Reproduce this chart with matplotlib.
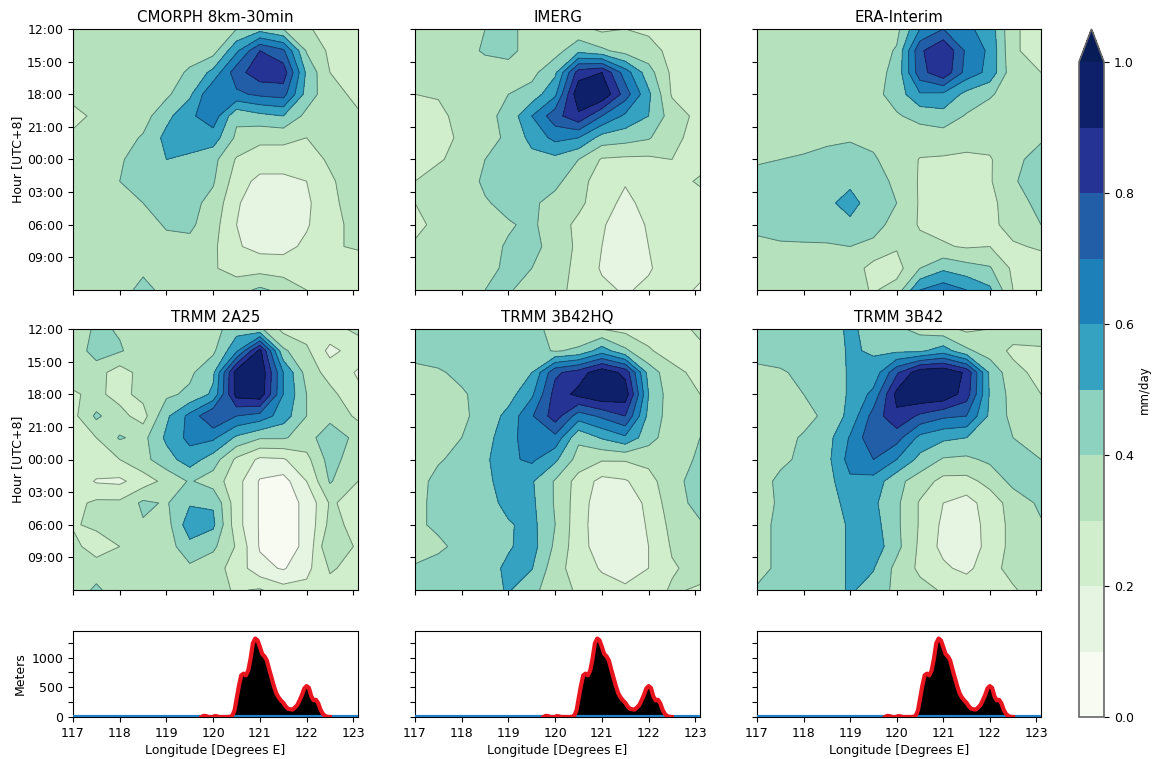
import numpy as np
import matplotlib
matplotlib.use("Agg")
import matplotlib.pyplot as plt
from matplotlib.colors import ListedColormap, BoundaryNorm

lons = [117, 117.5, 118, 118.5, 119, 119.5, 120, 120.5, 121, 121.5, 122, 122.5, 123.1]
hours = [0, 2, 4, 6, 8, 10, 12, 14, 16, 18, 20, 22, 24]
hour_ticks = [0, 3, 6, 9, 12, 15, 18, 21]
hour_labels = ["12:00", "15:00", "18:00", "21:00", "00:00", "03:00", "06:00", "09:00"]
lon_ticks = [117, 118, 119, 120, 121, 122, 123]
levels = [0, .1, .2, .3, .4, .5, .6, .7, .8, .9, 1.0]
band_colors = ["#f7fbf1", "#e6f5e2", "#d0eecb", "#b5e2bc", "#8cd2bf",
               "#35a2c2", "#1e80b8", "#225ea8", "#253494", "#0f206b"]
over_color = "#081d58"

cmorph = [
 [.35,.35,.38,.36,.36,.36,.37,.40,.46,.40,.31,.27,.27],
 [.33,.34,.35,.35,.36,.37,.36,.58,.80,.72,.39,.28,.27],
 [.34,.34,.34,.34,.37,.41,.53,.76,.86,.86,.48,.30,.27],
 [.33,.33,.34,.35,.38,.48,.70,.68,.72,.74,.46,.33,.28],
 [.27,.32,.34,.36,.47,.58,.66,.42,.47,.50,.37,.34,.31],
 [.32,.33,.36,.41,.53,.60,.55,.38,.32,.32,.30,.33,.32],
 [.33,.34,.39,.44,.50,.46,.43,.29,.26,.26,.27,.31,.34],
 [.33,.34,.40,.44,.46,.46,.41,.25,.17,.17,.20,.29,.34],
 [.33,.33,.35,.40,.44,.43,.37,.21,.15,.15,.18,.28,.34],
 [.33,.33,.34,.36,.41,.42,.34,.20,.15,.15,.19,.27,.33],
 [.33,.33,.34,.35,.37,.37,.32,.21,.17,.17,.22,.29,.31],
 [.33,.33,.34,.38,.35,.34,.31,.26,.26,.25,.24,.25,.25],
 [.33,.34,.36,.43,.37,.34,.33,.36,.42,.37,.30,.27,.26],
]
imerg = [
 [.34,.35,.37,.40,.42,.37,.35,.33,.28,.30,.28,.27,.20],
 [.34,.35,.37,.41,.42,.37,.36,.47,.42,.36,.34,.27,.22],
 [.34,.35,.36,.36,.37,.37,.48,.85,.90,.65,.44,.28,.26],
 [.30,.31,.34,.36,.40,.44,.58,.98,.99,.75,.52,.29,.27],
 [.27,.27,.34,.37,.43,.60,.76,.88,.70,.58,.50,.35,.27],
 [.26,.26,.32,.36,.42,.53,.63,.60,.46,.44,.41,.32,.27],
 [.27,.29,.33,.40,.44,.47,.47,.40,.29,.28,.28,.30,.27],
 [.30,.34,.34,.42,.46,.46,.43,.33,.26,.21,.26,.27,.31],
 [.30,.33,.35,.39,.43,.42,.36,.32,.25,.17,.24,.27,.27],
 [.28,.32,.35,.37,.39,.42,.34,.28,.21,.15,.21,.26,.27],
 [.31,.33,.35,.37,.41,.43,.36,.28,.20,.15,.20,.26,.27],
 [.34,.35,.35,.37,.42,.40,.35,.27,.19,.15,.19,.25,.24],
 [.34,.35,.37,.40,.41,.36,.32,.28,.22,.19,.22,.26,.18],
]
era = [
 [.35,.35,.35,.35,.35,.35,.37,.60,.70,.62,.56,.31,.27],
 [.35,.35,.35,.35,.35,.35,.41,.78,.90,.68,.58,.31,.27],
 [.35,.35,.35,.35,.35,.36,.43,.76,.88,.66,.57,.33,.30],
 [.35,.35,.35,.35,.35,.37,.44,.59,.58,.47,.41,.36,.33],
 [.35,.35,.35,.35,.35,.36,.39,.43,.46,.39,.36,.35,.35],
 [.36,.36,.37,.38,.39,.38,.36,.35,.35,.34,.34,.35,.39],
 [.39,.40,.41,.43,.44,.41,.36,.295,.29,.28,.29,.38,.43],
 [.43,.44,.45,.46,.47,.44,.38,.29,.27,.27,.29,.39,.45],
 [.43,.45,.46,.47,.55,.43,.40,.29,.27,.27,.28,.34,.44],
 [.42,.43,.44,.45,.47,.43,.37,.29,.27,.27,.28,.33,.40],
 [.38,.39,.39,.39,.40,.38,.31,.33,.31,.29,.30,.29,.31],
 [.35,.35,.35,.35,.36,.26,.26,.40,.48,.44,.41,.28,.26],
 [.35,.35,.35,.35,.34,.29,.34,.60,.66,.60,.52,.30,.27],
]
trmm_2a25 = [
 [.33,.42,.39,.35,.35,.35,.36,.46,.42,.27,.25,.27,.32],
 [.33,.45,.41,.35,.35,.36,.38,.58,.93,.42,.32,.17,.25],
 [.34,.34,.25,.34,.36,.38,.48,.95,.99,.60,.36,.26,.19],
 [.29,.32,.27,.33,.38,.42,.52,.94,.97,.60,.40,.33,.22],
 [.27,.42,.33,.26,.48,.63,.80,.70,.66,.55,.40,.37,.28],
 [.27,.30,.41,.37,.52,.63,.62,.48,.41,.41,.36,.46,.37],
 [.25,.28,.30,.37,.46,.55,.45,.28,.18,.19,.27,.44,.34],
 [.27,.19,.18,.25,.33,.41,.35,.24,.09,.06,.20,.41,.30],
 [.27,.32,.32,.42,.39,.49,.49,.24,.09,.06,.12,.31,.27],
 [.29,.32,.34,.39,.36,.56,.52,.24,.09,.06,.12,.33,.27],
 [.33,.25,.30,.33,.35,.47,.42,.29,.09,.06,.12,.40,.28],
 [.34,.35,.34,.33,.39,.38,.34,.26,.13,.09,.17,.31,.27],
 [.34,.42,.34,.36,.38,.34,.33,.29,.31,.24,.23,.27,.27],
]
trmm_3b42hq = [
 [.44,.44,.44,.44,.47,.43,.37,.31,.30,.27,.26,.26,.32],
 [.44,.44,.44,.44,.44,.44,.39,.42,.55,.42,.31,.26,.28],
 [.37,.39,.42,.44,.45,.50,.78,.85,.97,.87,.46,.33,.27],
 [.35,.36,.39,.43,.46,.58,.84,.93,.99,.96,.50,.34,.30],
 [.34,.36,.38,.44,.53,.69,.85,.65,.72,.80,.47,.35,.31],
 [.34,.38,.40,.47,.55,.68,.67,.42,.51,.58,.44,.34,.40],
 [.33,.39,.43,.48,.58,.62,.52,.36,.31,.31,.33,.34,.42],
 [.36,.43,.45,.47,.56,.51,.39,.26,.17,.19,.26,.37,.44],
 [.37,.43,.45,.46,.53,.52,.39,.25,.14,.15,.22,.36,.43],
 [.38,.42,.44,.46,.49,.53,.40,.24,.14,.14,.21,.33,.39],
 [.36,.38,.43,.45,.49,.54,.38,.24,.15,.14,.20,.31,.37],
 [.41,.44,.45,.46,.52,.505,.34,.25,.19,.15,.20,.29,.33],
 [.43,.44,.45,.46,.51,.42,.36,.28,.24,.22,.26,.31,.29],
]
trmm_3b42 = [
 [.43,.44,.44,.45,.52,.46,.42,.37,.33,.28,.30,.35,.34],
 [.43,.44,.45,.46,.51,.49,.48,.48,.55,.42,.35,.28,.29],
 [.38,.39,.42,.45,.51,.53,.78,.97,.99,.88,.48,.33,.27],
 [.36,.37,.40,.45,.51,.63,.93,.99,.98,.85,.49,.36,.30],
 [.35,.36,.37,.42,.53,.74,.88,.78,.72,.70,.48,.37,.31],
 [.35,.37,.41,.46,.61,.78,.74,.57,.52,.50,.42,.40,.36],
 [.34,.38,.42,.47,.64,.70,.60,.47,.39,.38,.42,.41,.40],
 [.36,.42,.44,.46,.58,.56,.43,.35,.27,.27,.33,.43,.46],
 [.37,.41,.44,.46,.53,.52,.42,.29,.20,.16,.25,.34,.42],
 [.37,.42,.44,.46,.51,.54,.42,.29,.18,.14,.24,.33,.39],
 [.37,.42,.44,.46,.51,.56,.43,.28,.17,.13,.24,.33,.36],
 [.37,.42,.44,.46,.51,.505,.37,.28,.22,.17,.27,.33,.36],
 [.41,.43,.44,.46,.51,.47,.37,.33,.29,.28,.30,.29,.35],
]
titles = ["CMORPH 8km-30min", "IMERG", "ERA-Interim", "TRMM 2A25", "TRMM 3B42HQ", "TRMM 3B42"]
fields = [cmorph, imerg, era, trmm_2a25, trmm_3b42hq, trmm_3b42]

terrain_lon = [117, 119.75, 119.8, 119.85, 119.9, 120.0, 120.03, 120.08, 120.12, 120.3, 120.38, 120.42,
               120.46, 120.5, 120.55, 120.6, 120.65, 120.7, 120.75, 120.8, 120.85, 120.9, 120.95, 121.0,
               121.05, 121.1, 121.15, 121.2, 121.25, 121.3, 121.35, 121.4, 121.45, 121.5, 121.55, 121.6,
               121.65, 121.7, 121.75, 121.8, 121.85, 121.9, 121.95, 122.0, 122.05, 122.1, 122.15, 122.2,
               122.25, 122.3, 122.35, 122.4, 122.45, 122.5, 123.1]
terrain_elev = [0, 0, 20, 15, 0, 0, 15, 12, 0, 0, 5, 40,
                120, 300, 520, 700, 730, 700, 780, 980, 1240, 1320, 1290, 1180,
                1060, 1020, 950, 800, 660, 520, 400, 330, 280, 240, 180, 140,
                130, 125, 160, 200, 280, 370, 480, 520, 490, 350, 280, 290,
                230, 120, 50, 15, 3, 0, 0]
elev_ticks = [0, 250, 500, 750, 1000, 1250]
elev_labels = ["0", "", "500", "", "1000", ""]

W, H = 1158, 759
plt.rcParams["font.size"] = 9
plt.rcParams["axes.labelsize"] = 9
plt.rcParams["xtick.labelsize"] = 9
plt.rcParams["ytick.labelsize"] = 9
fig = plt.figure(figsize=(W / 100, H / 100), dpi=100)


def px_axes(x0, x1, y0, y1):
    return fig.add_axes([x0 / W, 1 - y1 / H, (x1 - x0) / W, (y1 - y0) / H])


cmap = ListedColormap(band_colors)
cmap.set_over(over_color)
norm = BoundaryNorm(levels, cmap.N, extend="neither")
col_x = [(73, 358), (415, 700), (757, 1041)]
row_y = [(29, 290), (329, 590)]
cf = None
for i, (field, title) in enumerate(zip(fields, titles)):
    r, c = divmod(i, 3)
    ax = px_axes(col_x[c][0], col_x[c][1], row_y[r][0], row_y[r][1])
    z = np.array(field)
    cf = ax.contourf(lons, hours, z, levels=levels, cmap=cmap, norm=norm, extend="max")
    ax.contour(lons, hours, z, levels=levels, colors="k", linewidths=0.7, alpha=0.4)
    ax.set_xlim(117, 123.1)
    ax.set_ylim(24, 0)
    ax.set_xticks(lon_ticks)
    ax.set_xticklabels([])
    ax.set_yticks(hour_ticks)
    if c == 0:
        ax.set_yticklabels(hour_labels)
        ax.set_ylabel("Hour [UTC+8]", labelpad=2)
    else:
        ax.set_yticklabels([])
    ax.set_title(title, fontsize=10.8, pad=5)

for c in range(3):
    ax = px_axes(col_x[c][0], col_x[c][1], 631, 717)
    ax.fill_between(terrain_lon, terrain_elev, 0, color="k", lw=0)
    ax.plot([117, 123.1], [0, 0], color="#1f7fc8", lw=3, zorder=3)
    elev = np.array(terrain_elev, dtype=float)
    lon = np.array(terrain_lon, dtype=float)
    show = (elev > 0) | np.r_[elev[1:] > 0, False] | np.r_[False, elev[:-1] > 0]
    ax.plot(lon, np.ma.masked_where(~show, elev), color="#e8141e", lw=3, zorder=3)
    ax.set_xlim(117, 123.1)
    ax.set_ylim(0, 1447)
    ax.set_xticks(lon_ticks)
    ax.set_yticks(elev_ticks)
    ax.set_xlabel("Longitude [Degrees E]", labelpad=3)
    if c == 0:
        ax.set_yticklabels(elev_labels)
        ax.set_ylabel("Meters", labelpad=3)
    else:
        ax.set_yticklabels([])

cax = px_axes(1079, 1104, 29, 717)
cb = fig.colorbar(cf, cax=cax, extend="max", extendfrac=33 / 655)
cb.set_ticks([0, .2, .4, .6, .8, 1.0])
cb.ax.minorticks_off()
cb.set_label("mm/day", fontsize=8.5, labelpad=3)
cb.outline.set_edgecolor("#666666")
cb.outline.set_linewidth(1.2)
for patch in getattr(cb, "_extend_patches", []):
    patch.set_facecolor(over_color)

fig.savefig("out.png", dpi=100)
